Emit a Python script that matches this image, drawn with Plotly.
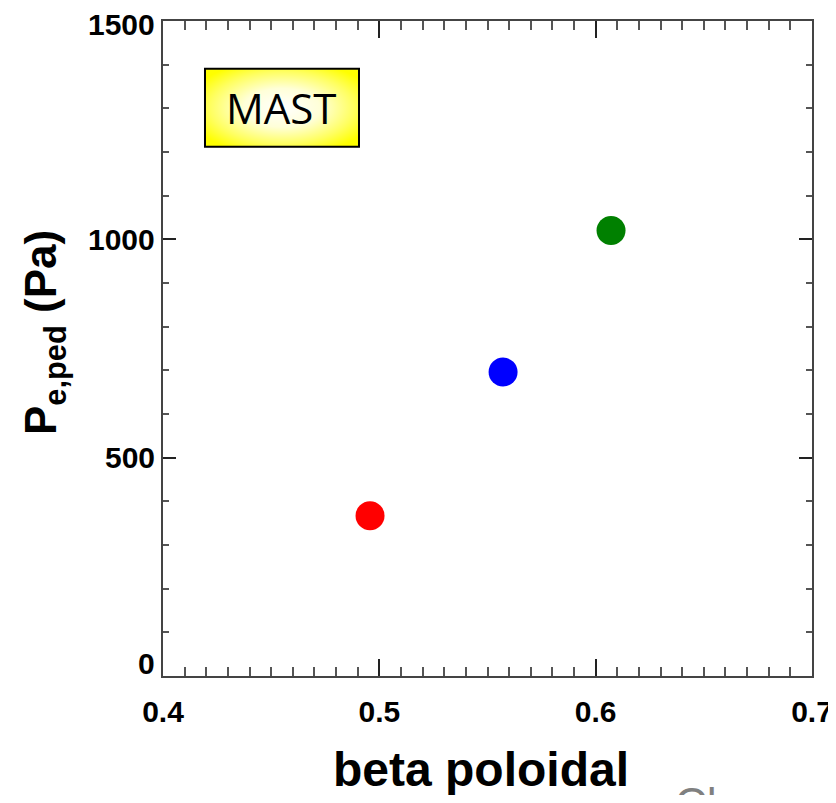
import base64
import plotly.graph_objects as go

# Data
beta_poloidal = [0.4957, 0.5572, 0.6071]
p_e_ped = [367, 696, 1020]
point_colors = ["#ff0000", "#0000ff", "#008000"]

x_tickvals = [0.4, 0.5, 0.6, 0.7]
x_ticktext = ["0.4", "0.5", "0.6", "0.7"]
y_tickvals = [0, 500, 1000, 1500]
y_ticktext = ["0", "500", "1000", "1500"]

SANS = "Liberation Sans, Arial, sans-serif"
TICKFONT = dict(family=SANS, size=30, color="#000", weight="bold")

fig = go.Figure()
fig.add_trace(go.Scatter(
    x=beta_poloidal, y=p_e_ped, mode="markers",
    marker=dict(size=29, color=point_colors, line=dict(width=0)),
    showlegend=False, hoverinfo="x+y",
))

axis_common = dict(
    showgrid=False, zeroline=False, showline=True, linecolor="#444", linewidth=1.5,
    mirror="ticks", ticks="inside", tickcolor="#222", tickwidth=1.5, automargin=False,
)

fig.update_xaxes(
    range=[0.4, 0.7], tickvals=x_tickvals, ticktext=x_ticktext, ticklen=17,
    tickfont=TICKFONT, ticklabeloverflow="allow", ticklabelstandoff=8,
    minor=dict(dtick=0.01, ticks="inside", ticklen=9, tickcolor="#555", tickwidth=1.5),
    **axis_common,
)
fig.update_yaxes(
    range=[0, 1500], tickvals=y_tickvals, ticklen=13, showticklabels=False,
    minor=dict(dtick=100, ticks="inside", ticklen=6, tickcolor="#555", tickwidth=1.5),
    **axis_common,
)

# y tick labels (the "0" label sits raised above the corner, as in the original)
for v, t in zip(y_tickvals, y_ticktext):
    fig.add_annotation(text=t, xref="paper", yref="y", x=0, y=v, xanchor="right",
                       yanchor="middle", xshift=-6, yshift=(13 if v == 0 else (-3 if v == 1500 else 0)),
                       showarrow=False, font=TICKFONT)

# MAST box with radial yellow gradient
svg = ('<svg xmlns="http://www.w3.org/2000/svg" width="154" height="78" viewBox="0 0 154 78" preserveAspectRatio="none">'
       '<defs><radialGradient id="g" cx="50%" cy="50%" r="62%">'
       '<stop offset="0%" stop-color="#ffffff"/><stop offset="40%" stop-color="#ffffd8"/>'
       '<stop offset="75%" stop-color="#ffff60"/>'
       '<stop offset="100%" stop-color="#ffff00"/></radialGradient></defs>'
       '<rect width="154" height="78" fill="url(#g)"/></svg>')
src = "data:image/svg+xml;base64," + base64.b64encode(svg.encode()).decode()

bx0, bx1, by0, by1 = 0.0647, 0.302, 0.808, 0.927
fig.add_layout_image(dict(source=src, xref="paper", yref="paper", x=bx0, y=by1,
                          sizex=bx1 - bx0, sizey=by1 - by0, sizing="stretch",
                          xanchor="left", yanchor="top", layer="above"))
fig.add_shape(type="rect", xref="paper", yref="paper", x0=bx0, x1=bx1, y0=by0, y1=by1,
              line=dict(color="#000", width=2), fillcolor="rgba(0,0,0,0)", layer="above")
fig.add_annotation(text="MAST", xref="paper", yref="paper", x=(bx0 + bx1) / 2, y=(by0 + by1) / 2,
                   xanchor="center", yanchor="middle",
                   showarrow=False, font=dict(family="Open Sans, sans-serif", size=42, color="#000"))

# Axis titles
fig.add_annotation(text="<b>beta poloidal</b>", xref="paper", yref="paper", x=0.49, y=-0.142,
                   xanchor="center", yanchor="middle", showarrow=False,
                   font=dict(family=SANS, size=48, color="#000"))
fig.add_annotation(text="<b>P<sub>e,ped</sub> (Pa)</b>", xref="paper", yref="paper", x=-0.183, y=0.524,
                   textangle=-90, xanchor="center", yanchor="middle", showarrow=False,
                   font=dict(family=SANS, size=44, color="#000"))

# Cropped grey credit text at bottom right
fig.add_annotation(text="Chapman", xref="paper", yref="paper", x=0.786, y=-0.154,
                   xanchor="left", yanchor="top", showarrow=False,
                   font=dict(family=SANS, size=44, color="#808080"))

# The page body adds an 8px margin; the figure is sized so it reaches the window's
# right edge without scrollbars, with the plot area at x 163..812, y 21..676.
fig.update_layout(
    width=828, height=787,
    margin=dict(l=155, r=24, t=13, b=119),
    paper_bgcolor="white", plot_bgcolor="white",
)

fig.write_html("out.html")
